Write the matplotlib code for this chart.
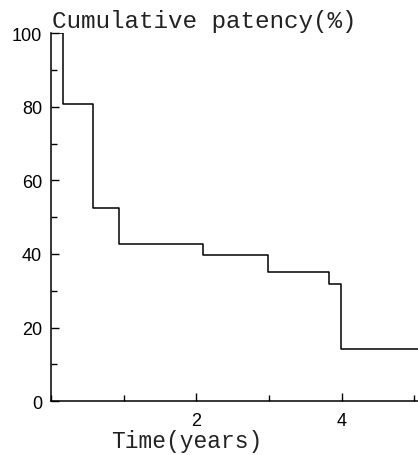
import matplotlib
matplotlib.use("Agg")
import matplotlib.pyplot as plt
from matplotlib.ticker import MultipleLocator

# Kaplan-Meier style step data (time in years, cumulative patency %)
step_times = [0.0, 0.17, 0.575, 0.93, 2.09, 2.99, 3.83, 3.99, 5.05]
patency = [100, 80.7, 52.4, 42.6, 39.8, 35.0, 31.9, 14.2, 14.2]
y_ticks = [0, 20, 40, 60, 80, 100]
x_ticks = [2, 4]

fig = plt.figure(figsize=(4.18, 4.56), dpi=100)
ax = fig.add_axes([0.122, 0.118, 0.878, 0.807])

ax.step(step_times, patency, where="post", color="black", lw=1.1)

ax.set_xlim(0, 5.05)
ax.set_ylim(0, 100)
ax.spines["top"].set_visible(False)
ax.spines["right"].set_visible(False)
ax.spines["left"].set_linewidth(1.1)
ax.spines["bottom"].set_linewidth(1.1)

ax.set_yticks(y_ticks)
ax.set_xticks(x_ticks)
ax.yaxis.set_minor_locator(MultipleLocator(10))
ax.xaxis.set_minor_locator(MultipleLocator(1))
ax.tick_params(which="both", direction="in", width=1.0, color="black")
ax.tick_params(which="major", length=6)
ax.tick_params(which="minor", length=4)
ax.tick_params(axis="y", pad=6.5)
ax.tick_params(axis="x", pad=8)
for lab in ax.get_xticklabels() + ax.get_yticklabels():
    lab.set_fontfamily("Liberation Sans")
    lab.set_fontsize(13)

fig.text(0.124, 0.952, "Cumulative patency(%)", fontfamily="Liberation Mono",
         fontsize=17.5, ha="left", va="center", color="#222222")
ax.set_xlabel("Time(years)", fontfamily="Liberation Mono", fontsize=16.5,
              color="#222222", labelpad=-2)
ax.xaxis.set_label_coords(0.370, -0.075)

fig.savefig("out.png", dpi=100)
